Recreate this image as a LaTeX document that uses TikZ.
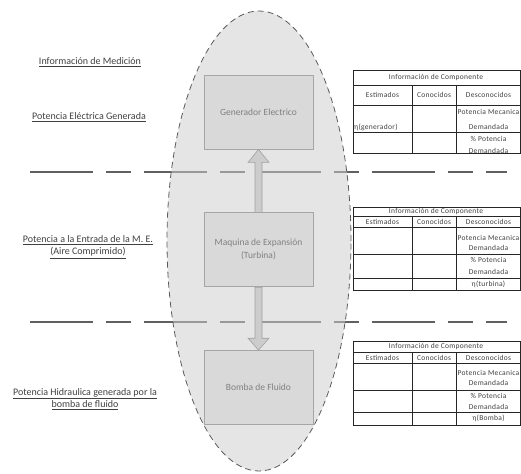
\documentclass[tikz,border=0pt]{standalone}
\usepackage{fontspec}
\setmainfont{Carlito}
\newfontfamily\tabfont[LetterSpace=4]{Carlito}
\usepackage{tikz}
\usetikzlibrary{positioning, calc}
\definecolor{lineGray}{RGB}{96,96,96}
\definecolor{ovalFill}{RGB}{206,206,206}
\definecolor{ovalDraw}{RGB}{90,90,90}
\definecolor{boxFill}{RGB}{217,217,217}
\definecolor{boxDraw}{RGB}{166,166,166}
\definecolor{boxText}{RGB}{128,128,128}
\definecolor{arrFill}{RGB}{204,204,204}
\definecolor{arrDraw}{RGB}{160,160,160}
\definecolor{labText}{RGB}{64,64,64}

\begin{document}
\begin{tikzpicture}[
    x=1pt, y=-1pt,
    sepline/.style={line width=2pt, lineGray,
                    dash pattern=on 63pt off 13pt on 25pt off 13pt},
    oval/.style={draw=ovalDraw, line width=0.8pt, dash pattern=on 6pt off 4pt,
                 fill=ovalFill, fill opacity=0.52},
    box/.style={rectangle, draw=boxDraw, fill=boxFill, line width=0.8pt,
                minimum width=109pt, minimum height=74pt, align=center,
                text=boxText, font=\fontsize{9.5}{13}\selectfont},
    blockarrow/.style={fill=arrFill, draw=arrDraw, line width=0.6pt},
    measlabel/.style={font=\fontsize{10}{12.5}\selectfont, text=labText,
                      align=center},
    tabline/.style={line width=0.6pt, black!85},
    tabtext/.style={font=\tabfont\fontsize{7.5}{10}\selectfont, text=black!75,
                    inner sep=0pt, align=center},
  ]
    \useasboundingbox (0,0) rectangle (521,473);

    % dashed separation lines
    \draw[sepline] (30,172) -- (507,172);
    \draw[sepline] (30,322) -- (507,322);

    % oval around the components
    \path[oval] (259,241) ellipse [x radius=92pt, y radius=230pt];

    \node[box] (GEN) at (258.5,112) {Generador Electrico};
    \node[box, below=63pt of GEN] (MAQ) {Maquina de Expansión\\(Turbina)};
    \node[box, below=63pt of MAQ] (BOM) {Bomba de Fluido};

    \filldraw[blockarrow] ($(MAQ.north)+(-3.5,0)$) -- ($(GEN.south)+(-3.5,13)$)
      -- ($(GEN.south)+(-10.5,13)$) -- (GEN.south) -- ($(GEN.south)+(10.5,13)$)
      -- ($(GEN.south)+(3.5,13)$) -- ($(MAQ.north)+(3.5,0)$) -- cycle;
    \filldraw[blockarrow] ($(MAQ.south)+(-3.5,0)$) -- ($(BOM.north)+(-3.5,-12)$)
      -- ($(BOM.north)+(-10.5,-12)$) -- (BOM.north) -- ($(BOM.north)+(10.5,-12)$)
      -- ($(BOM.north)+(3.5,-12)$) -- ($(MAQ.south)+(3.5,0)$) -- cycle;

    % measurement labels
    \node[measlabel] (INFO) at (90,62) {\underline{Información de Medición}};
    \node[measlabel] (PELEC) at (89,117) {\underline{Potencia Eléctrica Generada}};
    \node[measlabel] (PENT) at (88,247)
         {\underline{Potencia a la Entrada de la M. E.}\\\underline{(Aire Comprimido)}};
    \node[measlabel] (PHID) at (85,399)
         {\underline{Potencia Hidraulica generada por la}\\\underline{bomba de fluido}};

    % component tables
    \foreach \tb/\ya/\yb/\yc/\yd in {A/70/85/105/153, B/207/216/227/290, C/341/352/363/425} {
      \draw[tabline] (353,\ya) rectangle (520,\yd);
      \draw[tabline] (353,\yb) -- (520,\yb);
      \draw[tabline] (353,\yc) -- (520,\yc);
      \draw[tabline] (412,\yb) -- (412,\yd);
      \draw[tabline] (456,\yb) -- (456,\yd);
      \node[tabtext] (\tb-title) at (436,{(\ya+\yb)/2}) {Información de Componente};
      \node[tabtext] (\tb-est) at (382.5,{(\yb+\yc)/2}) {Estimados};
      \node[tabtext] (\tb-con) at (434,{(\yb+\yc)/2}) {Conocidos};
      \node[tabtext] (\tb-des) at (488.5,{(\yb+\yc)/2}) {Desconocidos};
    }
    \draw[tabline] (353,132) -- (520,132);
    \draw[tabline] (353,254) -- (520,254);
    \draw[tabline] (353,278) -- (520,278);
    \draw[tabline] (353,390) -- (520,390);
    \draw[tabline] (353,412) -- (520,412);

    \node[tabtext] (A-pm) at (488.5,119.5) {Potencia Mecanica\\[5pt]Demandada};
    \node[tabtext, anchor=west] (A-eta) at (354,127) {η(generador)};
    \node[tabtext] (A-pd) at (488.5,145) {\% Potencia\\[2pt]Demandada};

    \node[tabtext] (B-pm) at (488.5,243) {Potencia Mecanica\\Demandada};
    \node[tabtext] (B-pd) at (488.5,266) {\% Potencia\\[2pt]Demandada};
    \node[tabtext] (B-eta) at (488.5,284) {η(turbina)};

    \node[tabtext] (C-pm) at (488.5,378) {Potencia Mecanica\\Demandada};
    \node[tabtext] (C-pd) at (488.5,401.5) {\% Potencia\\[1pt]Demandada};
    \node[tabtext] (C-eta) at (488.5,418.5) {η(Bomba)};
  \end{tikzpicture}
\end{document}
